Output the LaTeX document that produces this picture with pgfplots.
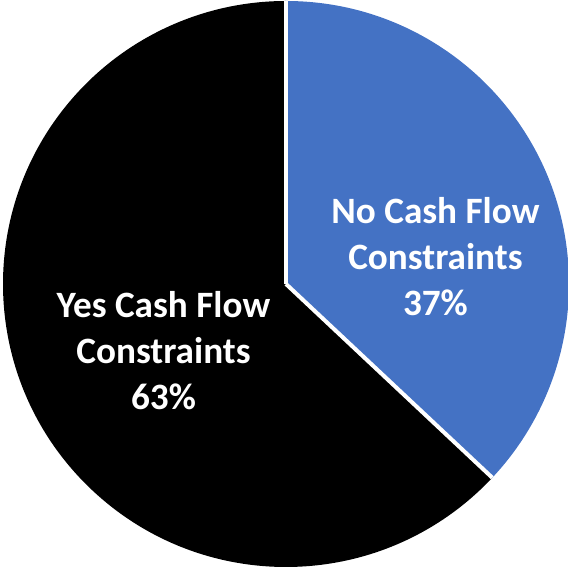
\documentclass[border=0pt]{standalone}
\usepackage{fontspec}
\setmainfont{Carlito}
\usepackage{pgfplots}
\usepackage{pgfplotstable}
\pgfplotsset{compat=1.18}
\definecolor{pieblue}{HTML}{4472C4}

% shares in percent
\pgfplotstableread{
group share
No    37
Yes   63
}\piedata
\pgfplotstablegetelem{0}{share}\of\piedata\edef\noshare{\pgfplotsretval}%
\pgfplotstablegetelem{1}{share}\of\piedata\edef\yesshare{\pgfplotsretval}%
\pgfmathsetmacro\angsplit{90-3.6*\noshare}%
\pgfmathsetmacro\angend{\angsplit-3.6*\yesshare}%
\def\rad{141.5pt}

\begin{document}
\begin{tikzpicture}
\begin{axis}[name=pie, hide axis, scale only axis,
  xtick=\empty, ytick=\empty,
  width=284pt, height=283.5pt,
  xmin=-1.0106, xmax=0.9965, ymin=-1.0, ymax=1.0035,
  clip=false]
\fill[pieblue] (axis cs:0,0) -- ++(90:\rad) arc[start angle=90, end angle=\angsplit, radius=\rad] -- cycle;
\fill[black] (axis cs:0,0) -- ++(\angsplit:\rad) arc[start angle=\angsplit, end angle=\angend, radius=\rad] -- cycle;
\draw[white, line width=2pt] (axis cs:0,0) -- ++(90:\rad);
\draw[white, line width=2pt] (axis cs:0,0) -- ++(\angsplit:\rad);
\node[text=white, align=center, font=\bfseries\fontsize{18.6}{23}\selectfont]
  at (axis cs:0.528,0.097) {No Cash Flow\\Constraints\\\noshare\%};
\node[text=white, align=center, font=\bfseries\fontsize{18.6}{23}\selectfont]
  at (axis cs:-0.433,-0.235) {Yes Cash Flow\\Constraints\\\yesshare\%};
\end{axis}
\pgfresetboundingbox
\path (pie.south west) rectangle (pie.north east);
\end{tikzpicture}
\end{document}
